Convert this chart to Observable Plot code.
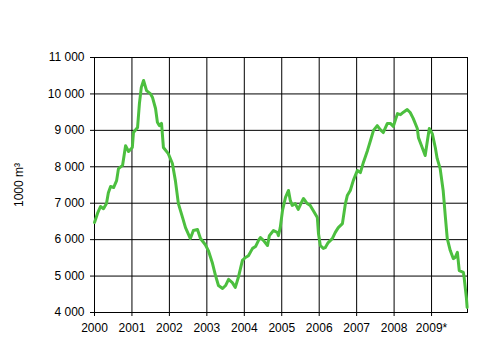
<!DOCTYPE html>
<html>
<head>
<meta charset="utf-8">
<script src="https://cdn.jsdelivr.net/npm/d3@7"></script>
<script src="https://cdn.jsdelivr.net/npm/@observablehq/plot@0.6"></script>
<style>
  html, body { margin: 0; padding: 0; background: #fff; }
  #chart { width: 500px; height: 347px; }
</style>
</head>
<body>
<div id="chart"></div>
<script>
// Time in decimal years, values in 1000 m3
const times = [
  0.00, 0.08, 0.16, 0.24, 0.32, 0.37, 0.43, 0.51, 0.59, 0.64, 0.75, 0.83, 0.91, 1.01, 1.04, 1.15,
  1.20, 1.25, 1.31, 1.39, 1.49, 1.55, 1.63, 1.68, 1.73, 1.79, 1.84, 1.97, 2.08, 2.16, 2.24, 2.35,
  2.43, 2.56, 2.64, 2.75, 2.83, 2.96, 3.04, 3.15, 3.23, 3.31, 3.42, 3.50, 3.58, 3.68, 3.76, 3.84,
  3.95, 4.03, 4.11, 4.22, 4.30, 4.38, 4.43, 4.51, 4.62, 4.67, 4.78, 4.88, 4.91, 4.96, 5.02, 5.10,
  5.18, 5.23, 5.28, 5.36, 5.44, 5.55, 5.58, 5.68, 5.76, 5.84, 5.95, 5.98, 6.03, 6.11, 6.16, 6.24,
  6.35, 6.43, 6.51, 6.62, 6.70, 6.75, 6.83, 6.91, 7.02, 7.10, 7.18, 7.29, 7.37, 7.45, 7.55, 7.63,
  7.71, 7.82, 7.90, 7.98, 8.09, 8.17, 8.25, 8.35, 8.43, 8.51, 8.62, 8.65, 8.75, 8.83, 8.89, 8.94,
  9.02, 9.10, 9.15, 9.23, 9.31, 9.37, 9.42, 9.50, 9.58, 9.63, 9.69, 9.74, 9.85, 9.87, 9.93, 9.95
].map(t => 2000 + t);
const values = [
  6470, 6720, 6910, 6850, 6990, 7290, 7460, 7430, 7620, 7950, 8040, 8580, 8420, 8530, 8940, 9080,
  9740, 10180, 10370, 10090, 10010, 9900, 9600, 9220, 9130, 9190, 8530, 8360, 8090, 7620, 6990, 6610,
  6330, 6030, 6250, 6280, 6030, 5860, 5700, 5350, 5020, 4740, 4660, 4740, 4910, 4820, 4690, 4960,
  5430, 5510, 5560, 5760, 5810, 5980, 6060, 5980, 5840, 6110, 6250, 6200, 6110, 6330, 6800, 7160,
  7350, 7070, 6940, 6990, 6830, 7070, 7130, 6990, 6940, 6800, 6610, 6170, 5840, 5760, 5780, 5920,
  6030, 6200, 6330, 6440, 6990, 7210, 7350, 7620, 7900, 7840, 8120, 8450, 8720, 9000, 9130, 9020,
  8940, 9190, 9190, 9110, 9460, 9430, 9500, 9570, 9490, 9330, 9050, 8800, 8530, 8310, 8720, 9050,
  8910, 8530, 8230, 7950, 7350, 6610, 6030, 5700, 5480, 5510, 5650, 5150, 5100, 4960, 4410, 4140
];
const xTicks = [2000, 2001, 2002, 2003, 2004, 2005, 2006, 2007, 2008, 2009];
const xTickLabels = ["2000", "2001", "2002", "2003", "2004", "2005", "2006", "2007", "2008", "2009*"];
const yTicks = [4000, 5000, 6000, 7000, 8000, 9000, 10000, 11000];
const yLabel = "1000 m³";

const data = times.map((t, i) => ({t, v: values[i]}));
const fmtY = d => d3.format(",")(d).replace(/,/g, " ");

const chart = Plot.plot({
  width: 500,
  height: 347,
  marginLeft: 94,
  marginRight: 33,
  marginTop: 57,
  marginBottom: 35,
  style: {fontFamily: "'Liberation Sans', Arial, sans-serif", fontSize: "12px", color: "#000", background: "#fff"},
  x: {domain: [2000, 2009.96]},
  y: {domain: [4000, 11000]},
  marks: [
    Plot.gridX(xTicks, {stroke: "#000", strokeOpacity: 1, strokeWidth: 1}),
    Plot.gridY(yTicks, {stroke: "#000", strokeOpacity: 1, strokeWidth: 1}),
    Plot.frame({stroke: "#000", strokeWidth: 1}),
    Plot.axisX(xTicks, {tickSize: 4, tickPadding: 7, tickFormat: (d) => xTickLabels[xTicks.indexOf(d)], label: null, fill: "#000", stroke: "#000"}),
    Plot.axisY(yTicks, {tickSize: 4, tickPadding: 6, tickFormat: fmtY, label: yLabel, labelAnchor: "center", labelArrow: "none", labelOffset: 80, fill: "#000", stroke: "#000"}),
    Plot.line(data, {x: "t", y: "v", stroke: "#4cbf3f", strokeWidth: 3, strokeLinejoin: "round"})
  ]
});
document.getElementById("chart").appendChild(chart);
</script>
</body>
</html>
